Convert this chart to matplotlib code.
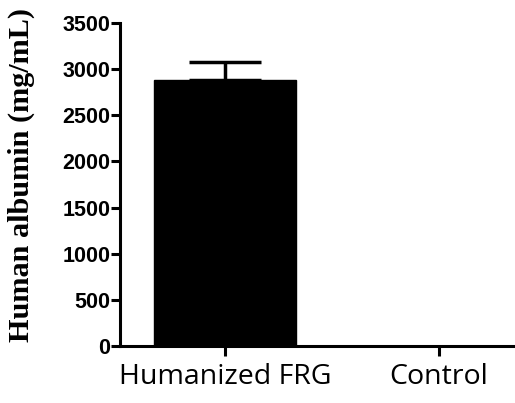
import numpy as np
import matplotlib.pyplot as plt

# data
groups = ['Humanized FRG', 'Control']
albumin = [2885, 0]
albumin_err = [190, 0]

fig = plt.figure(figsize=(5.15, 4.03), dpi=100)
ax = fig.add_axes([0.233, 0.141, 0.767, 0.802])

x = np.arange(len(groups))
ax.bar(x, albumin, width=0.66, color='black', edgecolor='black')
ax.errorbar(x[:1], albumin[:1], yerr=[[0], albumin_err[:1]], fmt='none',
            ecolor='black', elinewidth=2.5, capsize=26, capthick=2.5)

ax.set_xlim(-0.49, 1.355)
ax.set_ylim(0, 3500)
ax.set_yticks(np.arange(0, 3501, 500))
ax.set_xticks(x)
ax.set_xticklabels(groups, fontsize=20.5, family='Open Sans')
for lab in ax.get_yticklabels():
    lab.set_fontsize(15.5)
    lab.set_fontweight('bold')
    lab.set_family('Liberation Sans')
ax.set_ylabel('Human albumin (mg/mL)', fontsize=21.8, fontweight='bold',
              family='Liberation Serif')
ax.yaxis.set_label_coords(-0.215, 0.53)

ax.spines['top'].set_visible(False)
ax.spines['right'].set_visible(False)
ax.spines['left'].set_linewidth(2.2)
ax.spines['bottom'].set_linewidth(2.2)
ax.tick_params(axis='y', width=2.2, length=6.5, pad=0.5)
ax.tick_params(axis='x', width=2.2, length=7, pad=5)

fig.savefig('out.png', dpi=100)
